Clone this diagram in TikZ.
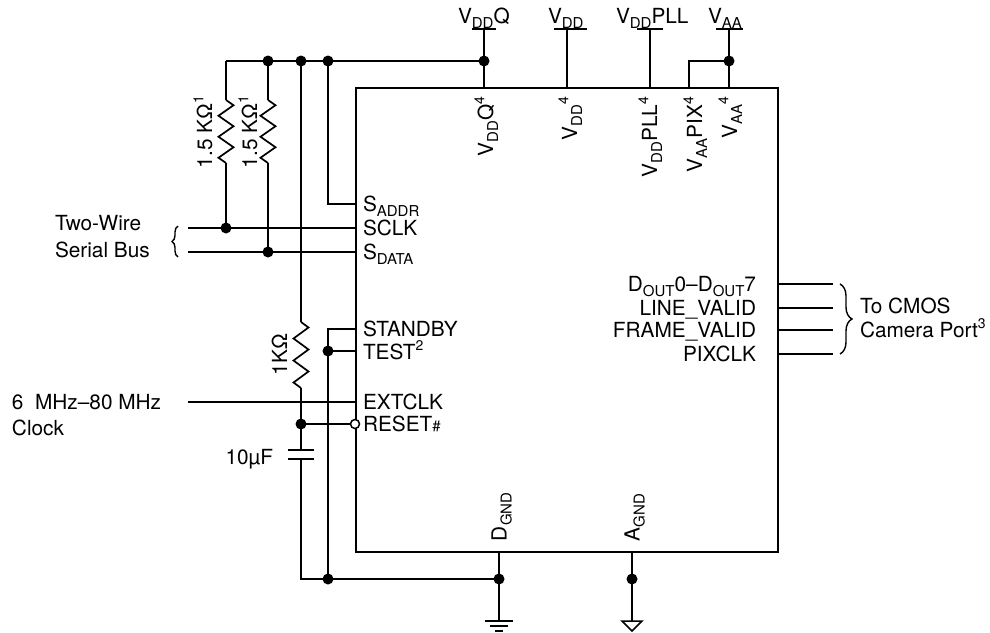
\documentclass[tikz,border=0pt]{standalone}
\usepackage{fontspec}
\setmainfont{TeX Gyre Heros}
\usetikzlibrary{decorations.pathreplacing}
\newcommand\mysub[1]{\raisebox{-0.25em}{\fontsize{15}{15}\selectfont #1}}
\newcommand\mysup[1]{\raisebox{0.42em}{\fontsize{14}{14}\selectfont #1}}
\newcommand\vres[3]{\draw (#1,#2) -- ++(7.5,{#3/12}) -- ++(-15,{#3/6}) -- ++(15,{#3/6}) -- ++(-15,{#3/6}) -- ++(15,{#3/6}) -- ++(-15,{#3/6}) -- ++(7.5,{#3/12});}
\begin{document}
\begin{tikzpicture}[x=1pt,y=-1pt, line width=1.7pt, line join=miter,
  lbl/.style={font=\fontsize{20.8}{24}\selectfont, inner sep=0pt, outer sep=0pt},
  dot/.style={circle, fill=black, inner sep=0pt, minimum size=11pt},
  odot/.style={circle, draw=black, fill=white, inner sep=0pt, minimum size=9pt, line width=1.5pt},
  chipbox/.style={draw, inner sep=0pt, minimum width=422pt, minimum height=464pt, anchor=north west}]
\useasboundingbox (0,0) rectangle (990,632);

% chip
\node[chipbox] (chip) at (355,87) {};

% named points
\coordinate (tl) at (226,61);
\coordinate (j1) at (268,61);
\coordinate (j2) at (301,61);
\coordinate (j3) at (328,61);
\coordinate (jq) at (484,61);
\coordinate (ja) at (729,61);
\coordinate (jclk) at (226,228);
\coordinate (jdat) at (268,252);
\coordinate (jtest) at (328,351);
\coordinate (jrst) at (301,424);
\coordinate (g0) at (301,579);
\coordinate (g1) at (328,579);
\coordinate (g2) at (499,579);
\coordinate (g3) at (632,579);

% top rail
\draw (tl) -- (jq);
% pull-up resistors
\draw (tl) -- (226,100);
\vres{226}{100}{63}
\draw (226,163) -- (jclk);
\draw (j1) -- (268,100);
\vres{268}{100}{63}
\draw (268,163) -- (jdat);
% 1K resistor, capacitor
\draw (j2) -- (301,322);
\vres{301}{322}{66}
\draw (301,388) -- (jrst) -- (301,450);
\draw (288,450) -- (314,450);
\draw (288,459) -- (314,459);
\draw (301,459) -- (g0) -- (g2);
% SADDR
\draw (j3) -- (328,204) -- (355,204);
% bus lines
\draw (188,228) -- (355,228);
\draw (188,252) -- (355,252);
% standby/test
\draw (355,329) -- (328,329) -- (g1);
\draw (jtest) -- (355,351);
% extclk
\draw (188,402) -- (355,402);
% reset
\node[odot] (rst) at (355,424) {};
\draw (jrst) -- (rst.west);

% grounds
\draw (499,551) -- (499,621);
\draw (485,621) -- (513,621);
\draw (490,626) -- (508,626);
\draw (495,631) -- (503,631);
\draw (632,551) -- (632,621);
\draw[line width=1.5pt] (622,621) -- (642,621) -- (632,631) -- cycle;

% supplies
\draw (484,29) -- (484,87);
\draw (472,29) -- (496,29);
\draw (567,29) -- (567,87);
\draw (554,29) -- (587,29);
\draw (650,29) -- (650,87);
\draw (637,29) -- (663,29);
\draw (729,29) -- (729,87);
\draw (716,29) -- (743,29);
\draw (689,87) -- (689,61) -- (ja);

% outputs
\draw (777,284) -- (833,284);
\draw (777,308) -- (833,308);
\draw (777,330) -- (833,330);
\draw (777,354) -- (833,354);

% braces
\draw[line width=1.4pt, decorate, decoration={brace, amplitude=6pt}] (178,257) -- (178,226);
\draw[line width=1.4pt, decorate, decoration={brace, amplitude=12pt}] (840,284) -- (840,354);

% dots
\foreach \p in {j1,j2,j3,jq,ja,jclk,jdat,jtest,jrst,g1,g2,g3}
  \node[dot] at (\p) {};

% top supply labels
\node[lbl, anchor=base west] at (458,23) {V\mysub{DD}Q};
\node[lbl, anchor=base west] at (548,23) {V\mysub{DD}};
\node[lbl, anchor=base west] at (616,23) {V\mysub{DD}PLL};
\node[lbl, anchor=base west] at (708,23) {V\mysub{AA}};

% rotated pin labels
\node[lbl, rotate=90, anchor=base east] at (493,97) {V\mysub{DD}Q\mysup{4}};
\node[lbl, rotate=90, anchor=base east] at (577,97) {V\mysub{DD}\mysup{4}};
\node[lbl, rotate=90, anchor=base east] at (657,97) {V\mysub{DD}PLL\mysup{4}};
\node[lbl, rotate=90, anchor=base east] at (702,97) {V\mysub{AA}PIX\mysup{4}};
\node[lbl, rotate=90, anchor=base east] at (737,97) {V\mysub{AA}\mysup{4}};
\node[lbl, rotate=90, anchor=base west] at (506.5,541) {D\mysub{GND}};
\node[lbl, rotate=90, anchor=base west] at (639.5,541) {A\mysub{GND}};

% left pin labels
\node[lbl, anchor=base west] at (363,211.5) {S\mysub{ADDR}};
\node[lbl, anchor=base west] at (363,235.5) {SCLK};
\node[lbl, anchor=base west] at (363,259.5) {S\mysub{DATA}};
\node[lbl, anchor=base west] at (363,336.5) {STANDBY};
\node[lbl, anchor=base west] at (363,359) {TEST\mysup{2}};
\node[lbl, anchor=base west] at (363,409.5) {EXTCLK};
\node[lbl, anchor=base west] at (363,431.5) {RESET{\fontsize{15}{15}\selectfont\#}};

% right pin labels
\node[lbl, anchor=base east] at (756,291.5) {D\mysub{OUT}0–D\mysub{OUT}7};
\node[lbl, anchor=base east] at (756,315.5) {LINE\_VALID};
\node[lbl, anchor=base east] at (756,337.5) {FRAME\_VALID};
\node[lbl, anchor=base east] at (756,361.5) {PIXCLK};

% outer labels
\node[lbl, anchor=base west] at (55,230) {Two-Wire};
\node[lbl, anchor=base west] at (55,257) {Serial Bus};
\node[lbl, anchor=base west] at (12,409) {6\ \ MHz–80 MHz};
\node[lbl, anchor=base west] at (12,435) {Clock};
\node[lbl, anchor=base east] at (273,464) {10µF};
\node[lbl, anchor=base west] at (860,313) {To CMOS};
\node[lbl, anchor=base west] at (860,337) {Camera Port\mysup{3}};

% resistor labels
\node[lbl, rotate=90, anchor=base west] at (212,168) {1.5 KΩ\mysup{1}};
\node[lbl, rotate=90, anchor=base west] at (257,168) {1.5 KΩ\mysup{1}};
\node[lbl, rotate=90, anchor=base west] at (287,375) {1KΩ};
\end{tikzpicture}
\end{document}
